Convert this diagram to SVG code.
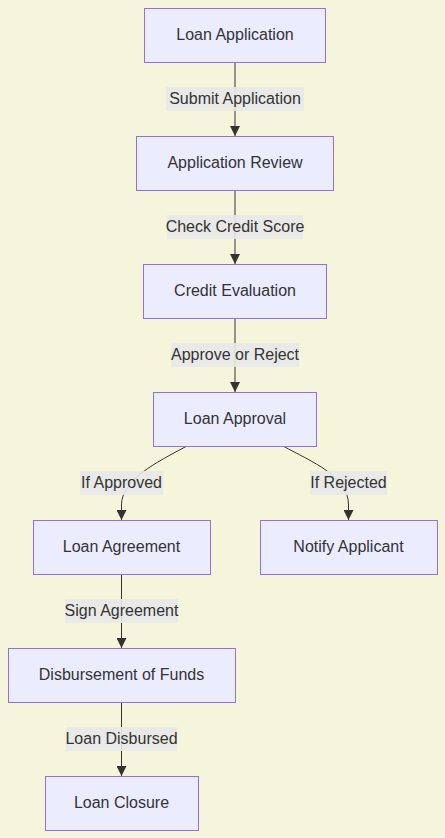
<svg xmlns="http://www.w3.org/2000/svg" width="445" height="838" viewBox="0 0 445 838">
<defs>
<style>
.node rect{fill:#ECECFF;stroke:#9370DB;stroke-width:1px;}
.node text, .lbl text{font-family:"Liberation Sans","Noto Sans",Arial,sans-serif;font-size:16px;fill:#333;text-anchor:middle;dominant-baseline:central;}
.lbl rect{fill:#e8e8e8;opacity:0.9;}
.edge{fill:none;stroke:#333;stroke-width:1px;}
</style>
<marker id="arrow" viewBox="0 0 10 10" refX="10" refY="5" markerWidth="10" markerHeight="10" markerUnits="userSpaceOnUse" orient="auto">
<path d="M0,0 L10,5 L0,10 z" fill="#333"/>
</marker>
</defs>
<rect x="0" y="0" width="445" height="838" fill="#f5f5dc"/>
<g id="connectors">
<path class="edge" d="M235,62 L235,136" marker-end="url(#arrow)"/>
<path class="edge" d="M235,190 L235,264" marker-end="url(#arrow)"/>
<path class="edge" d="M235,318 L235,392" marker-end="url(#arrow)"/>
<path class="edge" d="M187,446 C155,463 121.5,480 121.5,505 L121.5,520" marker-end="url(#arrow)"/>
<path class="edge" d="M283,446 C312,462 348.5,476 348.5,505 L348.5,520" marker-end="url(#arrow)"/>
<path class="edge" d="M121.5,574 L121.5,648" marker-end="url(#arrow)"/>
<path class="edge" d="M121.5,702 L121.5,776" marker-end="url(#arrow)"/>
</g>
<g id="edge-labels">
<g class="lbl"><rect x="166" y="87" width="138" height="24"/><text x="235" y="98">Submit Application</text></g>
<g class="lbl"><rect x="167" y="215" width="136" height="24"/><text x="235" y="226">Check Credit Score</text></g>
<g class="lbl"><rect x="171" y="343" width="128" height="24"/><text x="235" y="354">Approve or Reject</text></g>
<g class="lbl"><rect x="80" y="471" width="83" height="24"/><text x="121.5" y="482">If Approved</text></g>
<g class="lbl"><rect x="310" y="471" width="77" height="24"/><text x="348.5" y="482">If Rejected</text></g>
<g class="lbl"><rect x="65" y="599" width="113" height="24"/><text x="121.5" y="610">Sign Agreement</text></g>
<g class="lbl"><rect x="66" y="727" width="111" height="24"/><text x="121.5" y="738">Loan Disbursed</text></g>
</g>
<g id="n1" class="node"><rect x="144.5" y="8.5" width="181" height="54"/><text x="235" y="34">Loan Application</text></g>
<g id="n2" class="node"><rect x="136.5" y="136.5" width="197" height="54"/><text x="235" y="162">Application Review</text></g>
<g id="n3" class="node"><rect x="143.5" y="264.5" width="183" height="54"/><text x="235" y="290">Credit Evaluation</text></g>
<g id="n4" class="node"><rect x="153.5" y="392.5" width="163" height="54"/><text x="235" y="418">Loan Approval</text></g>
<g id="n5" class="node"><rect x="33.5" y="520.5" width="177" height="54"/><text x="121.5" y="546">Loan Agreement</text></g>
<g id="n6" class="node"><rect x="260.5" y="520.5" width="177" height="54"/><text x="348.5" y="546">Notify Applicant</text></g>
<g id="n7" class="node"><rect x="8.5" y="648.5" width="227" height="54"/><text x="121.5" y="674">Disbursement of Funds</text></g>
<g id="n8" class="node"><rect x="45.5" y="776.5" width="153" height="54"/><text x="121.5" y="802">Loan Closure</text></g>
</svg>
